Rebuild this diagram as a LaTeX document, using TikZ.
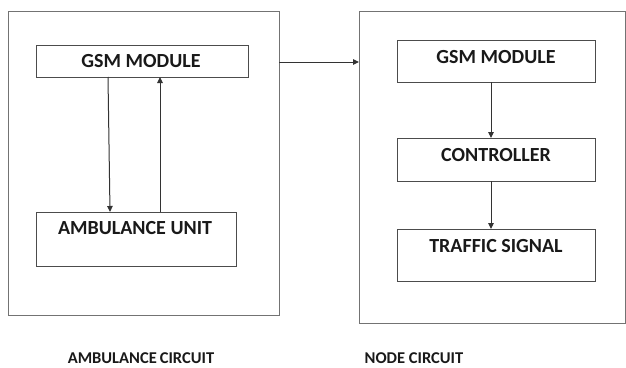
\documentclass[tikz,border=0pt]{standalone}
\usepackage{fontspec}
\setmainfont{Carlito}
\usetikzlibrary{arrows.meta}
\begin{document}
\begin{tikzpicture}[x=1pt,y=-1pt,
  frame/.style={draw=black!55,line width=1pt},
  block/.style={draw=black!70,line width=1pt},
  lbl/.style={font=\bfseries\fontsize{20}{22}\selectfont,text=black!90,inner sep=0pt},
  captiontext/.style={font=\bfseries\fontsize{16.5}{18}\selectfont,text=black!90,inner sep=0pt},
  flow/.style={draw=black!80,line width=1pt,-{Triangle[length=6pt,width=5.5pt]}}]
\useasboundingbox (0,0) rectangle (626,367);
% circuit frames
\draw[frame] (8,11) rectangle (279,315);
\draw[frame] (359,11) rectangle (625,323);
% ambulance side blocks
\draw[block] (36,45) rectangle (248,77);
\draw[block] (36,212) rectangle (236,266);
\node[lbl] (gsmA) at (141,61) {GSM MODULE};
\node[lbl] (amb) at (135,228) {AMBULANCE UNIT};
% node side blocks
\draw[block] (397,40) rectangle (595,82);
\draw[block] (397,138) rectangle (595,181);
\draw[block] (397,229) rectangle (595,281);
\node[lbl] (gsmB) at (496,57) {GSM MODULE};
\node[lbl] (ctrl) at (496,155) {CONTROLLER};
\node[lbl] (sig) at (496,246) {TRAFFIC SIGNAL};
% connector anchor points on block edges
\coordinate (aDownS) at (108,77);
\coordinate (aDownE) at (110,212);
\coordinate (aUpS) at (160,212);
\coordinate (aUpE) at (160,77);
\coordinate (linkS) at (279,62);
\coordinate (linkE) at (359,62);
\coordinate (gB) at (491,82);
\coordinate (cT) at (491,138);
\coordinate (cB) at (491,181);
\coordinate (sT) at (491,229);
\draw[flow] (aDownS) -- (aDownE);
\draw[flow] (aUpS) -- (aUpE);
\draw[flow] (linkS) -- (linkE);
\draw[flow] (gB) -- (cT);
\draw[flow] (cB) -- (sT);
% captions
\node[captiontext] (capA) at (141,358) {AMBULANCE\hspace{3pt}CIRCUIT};
\node[captiontext] (capB) at (414,358) {NODE CIRCUIT};
\end{tikzpicture}
\end{document}
